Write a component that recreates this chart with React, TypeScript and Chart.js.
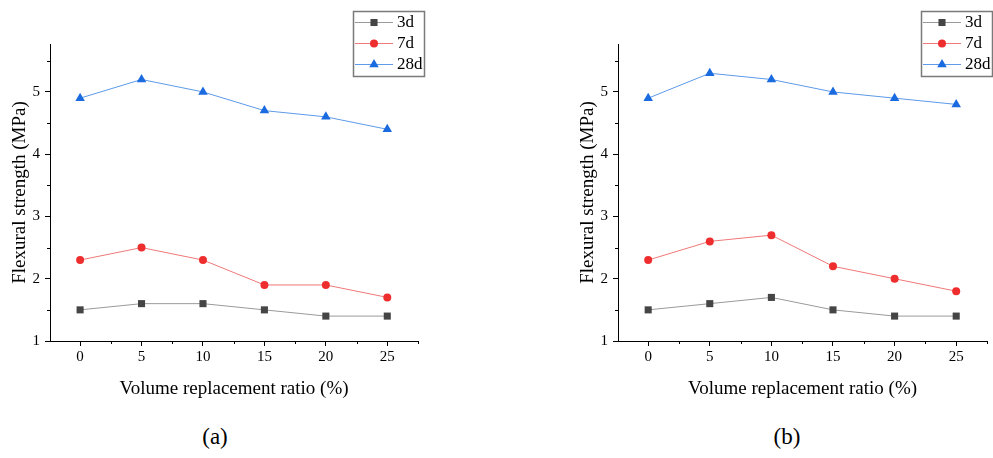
import React, { useEffect, useRef } from "react";
import { Chart, registerables } from "chart.js";

Chart.register(...registerables);

const ratios = [0, 5, 10, 15, 20, 25];
const seriesNames = ["3d", "7d", "28d"];
const a3d = [1.5, 1.6, 1.6, 1.5, 1.4, 1.4];
const a7d = [2.3, 2.5, 2.3, 1.9, 1.9, 1.7];
const a28d = [4.9, 5.2, 5.0, 4.7, 4.6, 4.4];
const b3d = [1.5, 1.6, 1.7, 1.5, 1.4, 1.4];
const b7d = [2.3, 2.6, 2.7, 2.2, 2.0, 1.8];
const b28d = [4.9, 5.3, 5.2, 5.0, 4.9, 4.8];
const xMinorTicks = [2.5, 7.5, 12.5, 17.5, 22.5, 27.5];
const yMinorTicks = [1.5, 2.5, 3.5, 4.5, 5.5];

const FONT = "'Liberation Serif', 'Times New Roman', serif";

const styles = [
  { line: "#9a9a9a", point: "#454545", pointStyle: "rect", radius: 5 },
  { line: "#f07878", point: "#ee2e2e", pointStyle: "circle", radius: 4 },
  { line: "#5d9ae8", point: "#1a6ae0", pointStyle: "triangle", radius: 5.5 },
];

const minorTicksPlugin = {
  id: "minorTicks",
  afterDraw(chart: any) {
    const ctx = chart.ctx;
    const xs = chart.scales.x;
    const ys = chart.scales.y;
    ctx.save();
    ctx.strokeStyle = "#000";
    ctx.lineWidth = 1;
    ctx.beginPath();
    for (const v of xMinorTicks) {
      const px = Math.round(xs.getPixelForValue(v)) + 0.5;
      ctx.moveTo(px, xs.top);
      ctx.lineTo(px, xs.top + 3);
    }
    for (const v of yMinorTicks) {
      const py = Math.round(ys.getPixelForValue(v)) + 0.5;
      ctx.moveTo(ys.right, py);
      ctx.lineTo(ys.right - 3, py);
    }
    ctx.stroke();
    ctx.restore();
  },
};

const legendPlugin = {
  id: "boxLegend",
  afterDraw(chart: any) {
    const ctx = chart.ctx;
    const bx = 353;
    const by = 11;
    const bw = 71;
    const bh = 65;
    ctx.save();
    ctx.fillStyle = "#fff";
    ctx.fillRect(bx, by, bw, bh);
    ctx.strokeStyle = "#7a7a7a";
    ctx.lineWidth = 1.5;
    ctx.strokeRect(bx + 0.5, by + 0.5, bw, bh);
    chart.data.datasets.forEach((ds: any, i: number) => {
      const y = by + 11 + i * 21;
      ctx.strokeStyle = ds.borderColor;
      ctx.lineWidth = 1;
      ctx.beginPath();
      ctx.moveTo(bx + 2, y + 0.5);
      ctx.lineTo(bx + 40, y + 0.5);
      ctx.stroke();
      ctx.fillStyle = ds.pointBackgroundColor;
      ctx.strokeStyle = ds.pointBackgroundColor;
      (Chart as any).helpers?.drawPoint
        ? null
        : null;
      drawMarker(ctx, ds.pointStyle, bx + 21, y + 0.5, ds.pointRadius);
      ctx.fillStyle = "#000";
      ctx.font = `17px ${FONT}`;
      ctx.textBaseline = "middle";
      ctx.textAlign = "left";
      ctx.fillText(ds.label, bx + 44, y + 1);
    });
    ctx.restore();
  },
};

function drawMarker(ctx: CanvasRenderingContext2D, style: string, x: number, y: number, r: number) {
  ctx.beginPath();
  if (style === "rect") {
    const s = Math.SQRT1_2 * r;
    ctx.rect(x - s, y - s, 2 * s, 2 * s);
  } else if (style === "circle") {
    ctx.arc(x, y, r, 0, Math.PI * 2);
  } else {
    const h = r * 1.5;
    const w = r * Math.sqrt(3) / 2;
    ctx.moveTo(x, y - r);
    ctx.lineTo(x - w, y + r / 2);
    ctx.lineTo(x + w, y + r / 2);
    ctx.closePath();
    void h;
  }
  ctx.fill();
}

function PanelChart({ series, rightPad }: { series: number[][]; rightPad: number }) {
  const ref = useRef<HTMLCanvasElement | null>(null);
  useEffect(() => {
    if (!ref.current) return;
    const chart = new Chart(ref.current, {
      type: "line",
      data: {
        datasets: series.map((vals, i) => ({
          label: seriesNames[i],
          data: ratios.map((x, j) => ({ x, y: vals[j] })),
          borderColor: styles[i].line,
          borderWidth: 1,
          pointBackgroundColor: styles[i].point,
          pointBorderColor: styles[i].point,
          pointBorderWidth: 0,
          pointStyle: styles[i].pointStyle as any,
          pointRadius: styles[i].radius,
          tension: 0,
          fill: false,
        })),
      },
      options: {
        animation: false,
        responsive: false,
        devicePixelRatio: 1,
        layout: { padding: { left: 0, top: 44, right: rightPad, bottom: 0 } },
        plugins: { legend: { display: false }, tooltip: { enabled: false } },
        scales: {
          x: {
            type: "linear",
            min: -2.45,
            max: 27.5,
            afterFit(scale: any) {
              scale.height = 59;
            },
            border: { display: true, color: "#000", width: 1 },
            grid: { drawOnChartArea: false, drawTicks: true, tickLength: 5, tickColor: "#000" },
            ticks: {
              stepSize: 5,
              includeBounds: false,
              padding: 2,
              color: "#000",
              font: { family: FONT, size: 15 },
              maxRotation: 0,
            },
            title: {
              display: true,
              text: "Volume replacement ratio (%)",
              color: "#000",
              font: { family: FONT, size: 19 },
              padding: { top: 5, bottom: 0 },
            },
          },
          y: {
            type: "linear",
            min: 1,
            max: 5.77,
            afterFit(scale: any) {
              scale.width = 50;
            },
            border: { display: true, color: "#000", width: 1 },
            grid: { drawOnChartArea: false, drawTicks: true, tickLength: 5, tickColor: "#000" },
            ticks: {
              stepSize: 1,
              includeBounds: false,
              padding: 5,
              color: "#000",
              font: { family: FONT, size: 15 },
            },
            title: {
              display: true,
              text: "Flexural strength (MPa)",
              color: "#000",
              font: { family: FONT, size: 19 },
              padding: { top: 9, bottom: 0 },
            },
          },
        },
      },
      plugins: [minorTicksPlugin, legendPlugin],
    });
    return () => chart.destroy();
  }, [series, rightPad]);
  return <canvas ref={ref} width={440} height={400} style={{ display: "block" }} />;
}

const seriesA = [a3d, a7d, a28d];
const seriesB = [b3d, b7d, b28d];

export default function App() {
  return (
    <div style={{ position: "absolute", left: 0, top: 0, width: 993, height: 458, background: "#fff", overflow: "hidden" }}>
      <div style={{ position: "absolute", left: 0, top: 0, width: 440, height: 400 }}>
        <PanelChart series={seriesA} rightPad={22} />
      </div>
      <div style={{ position: "absolute", left: 568, top: 0, width: 425, height: 400, overflow: "hidden" }}>
        <PanelChart series={seriesB} rightPad={21} />
      </div>
      <div style={{ position: "absolute", left: 165, width: 100, top: 422, textAlign: "center", fontFamily: FONT, fontSize: 23, lineHeight: "30px" }}>
        (a)
      </div>
      <div style={{ position: "absolute", left: 737, width: 100, top: 422, textAlign: "center", fontFamily: FONT, fontSize: 23, lineHeight: "30px" }}>
        (b)
      </div>
    </div>
  );
}
